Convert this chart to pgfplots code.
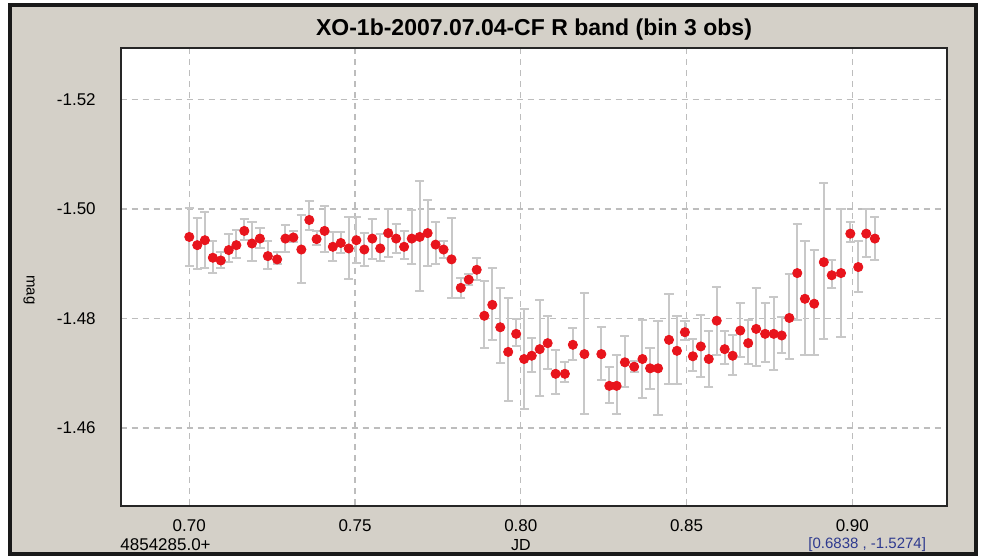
\documentclass[border=0pt]{standalone}
\usepackage{pgfplots}
\pgfplotsset{compat=1.18}
\usepackage{fontspec}
\setmainfont{Liberation Sans}
\definecolor{panel}{HTML}{D4D0C8}
\definecolor{dotred}{HTML}{E8141C}
\definecolor{barg}{HTML}{C8C8C8}
\definecolor{gridg}{HTML}{BDBDBD}
\definecolor{navy}{HTML}{2E3A8F}
\begin{document}
\begin{tikzpicture}[x=1bp,y=1bp]
% window background, 1px = 0.5bp
\useasboundingbox (0,0) rectangle (491,278.5);
\fill[white] (0,0) rectangle (491,278.5);
\filldraw[fill=panel, draw=black!90, line width=1.8bp] (5,1.5) rectangle (488,276);
\begin{axis}[
    at={(60.35bp,25.5bp)}, anchor=south west,
    scale only axis, width=413bp, height=229bp,
    xmin=0.67931, xmax=0.92848,
    ymin=-1.52941, ymax=-1.44575,
    y dir=reverse,
    axis background/.style={fill=white},
    axis line style={black!85, line width=0.9bp},
    xtick={0.70,0.75,0.80,0.85,0.90},
    xticklabels={0.70,0.75,0.80,0.85,0.90},
    ytick={-1.52,-1.50,-1.48,-1.46},
    yticklabels={-1.52,-1.50,-1.48,-1.46},
    major tick length=0pt,
    tick style={draw=none},
    grid=major,
    major grid style={gridg, line width=0.6bp, dash pattern=on 3bp off 2.5bp},
    ticklabel style={font=\fontsize{8.5bp}{10bp}\selectfont, inner sep=0pt},
    xticklabel style={anchor=north, yshift=-6.5bp},
    yticklabel style={anchor=east, xshift=-12.3bp},
    clip=false,
]
\addplot[only marks, mark=*, mark size=2.3bp, mark options={fill=dotred, draw=dotred},
    error bars/.cd, y dir=both, y explicit,
    error bar style={barg, line width=1bp},
    error mark options={rotate=90, mark size=2.3bp, barg, line width=1bp}]
coordinates {
(0.7000,-1.4949) += (0,0.0054) -= (0,0.0053)
(0.7024,-1.4934) += (0,0.0044) -= (0,0.0049)
(0.7047,-1.4943) += (0,0.0051) -= (0,0.0051)
(0.7071,-1.4911) += (0,0.0027) -= (0,0.0031)
(0.7095,-1.4906) += (0,0.0013) -= (0,0.0016)
(0.7119,-1.4925) += (0,0.0021) -= (0,0.0030)
(0.7142,-1.4934) += (0,0.0024) -= (0,0.0027)
(0.7166,-1.4960) += (0,0.0016) -= (0,0.0022)
(0.7189,-1.4937) += (0,0.0032) -= (0,0.0039)
(0.7213,-1.4946) += (0,0.0018) -= (0,0.0019)
(0.7237,-1.4914) += (0,0.0024) -= (0,0.0028)
(0.7265,-1.4908) += (0,0.0009) -= (0,0.0013)
(0.7290,-1.4946) += (0,0.0024) -= (0,0.0025)
(0.7314,-1.4948) += (0,0.0008) -= (0,0.0012)
(0.7338,-1.4926) += (0,0.0062) -= (0,0.0063)
(0.7362,-1.4980) += (0,0.0018) -= (0,0.0035)
(0.7384,-1.4945) += (0,0.0011) -= (0,0.0015)
(0.7408,-1.4960) += (0,0.0038) -= (0,0.0046)
(0.7433,-1.4931) += (0,0.0026) -= (0,0.0027)
(0.7457,-1.4938) += (0,0.0018) -= (0,0.0020)
(0.7481,-1.4928) += (0,0.0055) -= (0,0.0058)
(0.7504,-1.4943) += (0,0.0041) -= (0,0.0043)
(0.7528,-1.4926) += (0,0.0030) -= (0,0.0031)
(0.7552,-1.4946) += (0,0.0037) -= (0,0.0035)
(0.7576,-1.4928) += (0,0.0023) -= (0,0.0027)
(0.7600,-1.4956) += (0,0.0043) -= (0,0.0044)
(0.7624,-1.4946) += (0,0.0027) -= (0,0.0027)
(0.7648,-1.4931) += (0,0.0023) -= (0,0.0029)
(0.7671,-1.4946) += (0,0.0047) -= (0,0.0052)
(0.7695,-1.4949) += (0,0.0099) -= (0,0.0102)
(0.7719,-1.4956) += (0,0.0060) -= (0,0.0061)
(0.7743,-1.4935) += (0,0.0035) -= (0,0.0042)
(0.7767,-1.4926) += (0,0.0015) -= (0,0.0015)
(0.7791,-1.4908) += (0,0.0071) -= (0,0.0075)
(0.7819,-1.4856) += (0,0.0019) -= (0,0.0018)
(0.7843,-1.4871) += (0,0.0010) -= (0,0.0010)
(0.7867,-1.4889) += (0,0.0018) -= (0,0.0021)
(0.7890,-1.4805) += (0,0.0059) -= (0,0.0063)
(0.7914,-1.4825) += (0,0.0064) -= (0,0.0067)
(0.7938,-1.4784) += (0,0.0065) -= (0,0.0071)
(0.7962,-1.4739) += (0,0.0090) -= (0,0.0098)
(0.7986,-1.4772) += (0,0.0023) -= (0,0.0027)
(0.8010,-1.4726) += (0,0.0091) -= (0,0.0091)
(0.8033,-1.4732) += (0,0.0030) -= (0,0.0033)
(0.8057,-1.4744) += (0,0.0085) -= (0,0.0090)
(0.8081,-1.4755) += (0,0.0047) -= (0,0.0050)
(0.8105,-1.4699) += (0,0.0036) -= (0,0.0043)
(0.8133,-1.4699) += (0,0.0015) -= (0,0.0022)
(0.8157,-1.4752) += (0,0.0028) -= (0,0.0030)
(0.8192,-1.4735) += (0,0.0109) -= (0,0.0112)
(0.8243,-1.4735) += (0,0.0048) -= (0,0.0050)
(0.8267,-1.4677) += (0,0.0031) -= (0,0.0035)
(0.8289,-1.4677) += (0,0.0051) -= (0,0.0057)
(0.8314,-1.4720) += (0,0.0045) -= (0,0.0048)
(0.8342,-1.4712) += (0,0.0009) -= (0,0.0011)
(0.8367,-1.4726) += (0,0.0071) -= (0,0.0071)
(0.8390,-1.4709) += (0,0.0037) -= (0,0.0037)
(0.8414,-1.4709) += (0,0.0085) -= (0,0.0086)
(0.8447,-1.4761) += (0,0.0080) -= (0,0.0083)
(0.8471,-1.4741) += (0,0.0060) -= (0,0.0063)
(0.8495,-1.4775) += (0,0.0015) -= (0,0.0020)
(0.8519,-1.4731) += (0,0.0026) -= (0,0.0031)
(0.8543,-1.4749) += (0,0.0056) -= (0,0.0057)
(0.8567,-1.4726) += (0,0.0051) -= (0,0.0051)
(0.8591,-1.4796) += (0,0.0063) -= (0,0.0062)
(0.8615,-1.4744) += (0,0.0027) -= (0,0.0034)
(0.8639,-1.4732) += (0,0.0036) -= (0,0.0038)
(0.8662,-1.4778) += (0,0.0048) -= (0,0.0051)
(0.8686,-1.4755) += (0,0.0038) -= (0,0.0043)
(0.8710,-1.4781) += (0,0.0068) -= (0,0.0074)
(0.8737,-1.4772) += (0,0.0052) -= (0,0.0057)
(0.8763,-1.4772) += (0,0.0066) -= (0,0.0068)
(0.8787,-1.4769) += (0,0.0032) -= (0,0.0034)
(0.8810,-1.4801) += (0,0.0075) -= (0,0.0080)
(0.8834,-1.4883) += (0,0.0085) -= (0,0.0089)
(0.8857,-1.4836) += (0,0.0103) -= (0,0.0106)
(0.8885,-1.4827) += (0,0.0094) -= (0,0.0098)
(0.8914,-1.4903) += (0,0.0141) -= (0,0.0144)
(0.8938,-1.4879) += (0,0.0024) -= (0,0.0027)
(0.8966,-1.4883) += (0,0.0117) -= (0,0.0117)
(0.8994,-1.4955) += (0,0.0015) -= (0,0.0022)
(0.9018,-1.4894) += (0,0.0045) -= (0,0.0048)
(0.9042,-1.4955) += (0,0.0043) -= (0,0.0045)
(0.9068,-1.4946) += (0,0.0039) -= (0,0.0039)
};
\end{axis}
% title and window texts
\node[font=\bfseries\fontsize{11.5bp}{13bp}\selectfont] at (267,263.5) {XO-1b-2007.07.04-CF R band (bin 3 obs)};
\node[font=\fontsize{7.5bp}{9bp}\selectfont, rotate=-90] at (14.5,133.5) {mag};
\node[font=\fontsize{8.5bp}{10bp}\selectfont, anchor=west, inner sep=0pt] at (60,6) {4854285.0+};
\node[font=\fontsize{8bp}{10bp}\selectfont, inner sep=0pt] at (260.5,6) {JD};
\node[font=\fontsize{7.5bp}{9bp}\selectfont, anchor=west, inner sep=0pt, text=navy] at (404,6) {[0.6838 , -1.5274]};
\end{tikzpicture}
\end{document}
